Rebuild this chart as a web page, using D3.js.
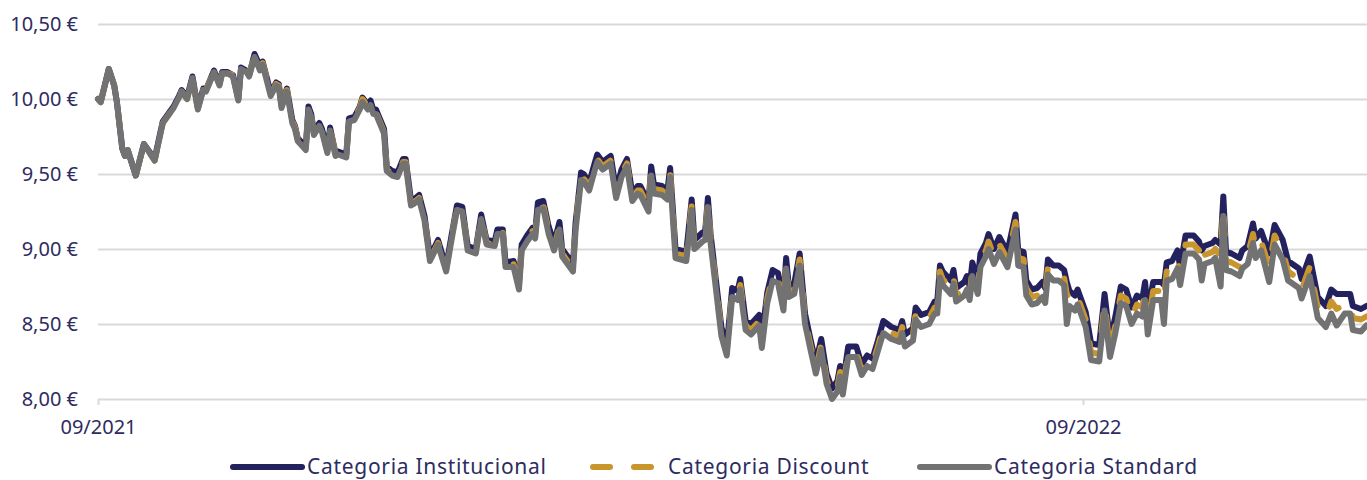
<!DOCTYPE html>
<html>
<head>
<meta charset="utf-8">
<script src="https://cdn.jsdelivr.net/npm/d3@7"></script>
<style>
  body { margin: 0; background: #fff; }
  text { font-family: "Noto Sans", sans-serif; fill: #2e2c5f; }
</style>
</head>
<body>
<div id="chart"></div>
<script>
const dates = [
  "2021-09-01","2021-09-02","2021-09-05","2021-09-07","2021-09-08","2021-09-10","2021-09-11","2021-09-12","2021-09-15","2021-09-18",
  "2021-09-22","2021-09-25","2021-09-27","2021-09-29","2021-10-01","2021-10-02","2021-10-04","2021-10-06","2021-10-08","2021-10-10",
  "2021-10-11","2021-10-14","2021-10-16","2021-10-17","2021-10-19","2021-10-21","2021-10-23","2021-10-24","2021-10-26","2021-10-27",
  "2021-10-29","2021-10-30","2021-10-31","2021-11-01","2021-11-04","2021-11-06","2021-11-07","2021-11-08","2021-11-10","2021-11-12",
  "2021-11-13","2021-11-14","2021-11-17","2021-11-18","2021-11-19","2021-11-20","2021-11-22","2021-11-23","2021-11-25","2021-11-26",
  "2021-11-28","2021-11-29","2021-12-02","2021-12-03","2021-12-05","2021-12-07","2021-12-08","2021-12-10","2021-12-11","2021-12-12",
  "2021-12-13","2021-12-16","2021-12-17","2021-12-19","2021-12-21","2021-12-23","2021-12-24","2021-12-26","2021-12-27","2021-12-29",
  "2021-12-31","2022-01-02","2022-01-05","2022-01-08","2022-01-10","2022-01-12","2022-01-14","2022-01-16","2022-01-19","2022-01-21",
  "2022-01-23","2022-01-26","2022-01-27","2022-01-29","2022-01-30","2022-02-02","2022-02-04","2022-02-05","2022-02-07","2022-02-09",
  "2022-02-10","2022-02-11","2022-02-13","2022-02-15","2022-02-17","2022-02-19","2022-02-20","2022-02-24","2022-02-25","2022-02-27",
  "2022-02-28","2022-03-02","2022-03-04","2022-03-05","2022-03-07","2022-03-10","2022-03-12","2022-03-14","2022-03-16","2022-03-18",
  "2022-03-20","2022-03-21","2022-03-24","2022-03-25","2022-03-26","2022-03-29","2022-03-31","2022-04-01","2022-04-03","2022-04-07",
  "2022-04-09","2022-04-10","2022-04-13","2022-04-14","2022-04-15","2022-04-16","2022-04-18","2022-04-20","2022-04-22","2022-04-24",
  "2022-04-26","2022-04-27","2022-04-29","2022-05-01","2022-05-04","2022-05-05","2022-05-07","2022-05-09","2022-05-11","2022-05-13",
  "2022-05-14","2022-05-15","2022-05-17","2022-05-19","2022-05-21","2022-05-23","2022-05-25","2022-05-27","2022-05-29","2022-05-31",
  "2022-06-02","2022-06-03","2022-06-04","2022-06-06","2022-06-09","2022-06-11","2022-06-13","2022-06-15","2022-06-17","2022-06-19",
  "2022-06-22","2022-06-25","2022-06-26","2022-06-27","2022-06-30","2022-07-01","2022-07-03","2022-07-06","2022-07-08","2022-07-09",
  "2022-07-10","2022-07-11","2022-07-14","2022-07-15","2022-07-16","2022-07-19","2022-07-20","2022-07-21","2022-07-22","2022-07-24",
  "2022-07-25","2022-07-27","2022-07-28","2022-07-30","2022-08-01","2022-08-04","2022-08-07","2022-08-08","2022-08-10","2022-08-11",
  "2022-08-13","2022-08-15","2022-08-17","2022-08-18","2022-08-19","2022-08-21","2022-08-23","2022-08-25","2022-08-26","2022-08-27",
  "2022-08-29","2022-08-30","2022-09-02","2022-09-04","2022-09-07","2022-09-09","2022-09-11","2022-09-13","2022-09-15","2022-09-17",
  "2022-09-19","2022-09-21","2022-09-23","2022-09-24","2022-09-25","2022-09-27","2022-09-30","2022-10-01","2022-10-02","2022-10-04",
  "2022-10-06","2022-10-07","2022-10-09","2022-10-12","2022-10-14","2022-10-15","2022-10-16","2022-10-19","2022-10-20","2022-10-22",
  "2022-10-23","2022-10-24","2022-10-26","2022-10-29","2022-10-30","2022-11-01","2022-11-03","2022-11-04","2022-11-06","2022-11-09",
  "2022-11-11","2022-11-14","2022-11-16","2022-11-20","2022-11-21","2022-11-24","2022-11-27","2022-11-30","2022-12-02","2022-12-04",
  "2022-12-07","2022-12-09","2022-12-10","2022-12-13","2022-12-15"
];

const standard = [
  10.00,9.98,10.20,10.09,9.98,9.67,9.62,9.66,9.49,9.70,
  9.59,9.84,9.89,9.94,10.01,10.05,10.00,10.14,9.93,10.06,
  10.05,10.18,10.09,10.17,10.17,10.15,9.99,10.20,10.18,10.15,
  10.28,10.24,10.19,10.23,10.02,10.09,10.08,9.94,10.05,9.84,
  9.80,9.72,9.66,9.93,9.88,9.76,9.82,9.78,9.64,9.79,
  9.62,9.63,9.61,9.85,9.86,9.93,9.98,9.93,9.96,9.90,
  9.90,9.77,9.52,9.49,9.48,9.57,9.57,9.29,9.30,9.33,
  9.19,8.92,9.03,8.85,9.06,9.26,9.25,8.99,8.97,9.20,
  9.03,9.02,9.10,9.10,8.88,8.88,8.73,8.99,9.05,9.10,
  9.07,9.26,9.27,9.10,8.99,9.13,8.95,8.85,9.13,9.46,
  9.45,9.39,9.52,9.58,9.53,9.57,9.34,9.48,9.55,9.32,
  9.37,9.36,9.25,9.49,9.37,9.36,9.33,9.48,8.94,8.92,
  9.26,9.00,9.05,9.06,9.28,9.04,8.73,8.42,8.29,8.68,
  8.66,8.73,8.46,8.43,8.49,8.34,8.64,8.79,8.77,8.59,
  8.87,8.68,8.70,8.89,8.50,8.33,8.17,8.33,8.10,8.00,
  8.05,8.15,8.03,8.28,8.28,8.16,8.22,8.20,8.32,8.44,
  8.40,8.38,8.44,8.35,8.39,8.53,8.48,8.50,8.57,8.57,
  8.81,8.76,8.70,8.77,8.65,8.69,8.73,8.66,8.82,8.70,
  8.88,8.95,9.00,8.90,8.98,8.88,9.13,8.89,8.88,8.69,
  8.63,8.64,8.68,8.64,8.83,8.79,8.79,8.76,8.50,8.62,
  8.59,8.63,8.48,8.26,8.25,8.59,8.28,8.44,8.64,8.62,
  8.50,8.57,8.55,8.66,8.43,8.66,8.66,8.50,8.79,8.80,
  8.87,8.76,8.97,8.97,8.93,8.79,8.90,8.92,8.94,8.75,
  9.22,8.86,8.85,8.82,8.87,8.90,9.04,8.94,8.99,8.78,
  9.03,8.93,8.79,8.74,8.67,8.82,8.54,8.48,8.57,8.49,
  8.57,8.57,8.46,8.45,8.49
];

const institucional = [
  10.00,9.98,10.20,10.09,9.98,9.67,9.62,9.66,9.49,9.70,
  9.60,9.85,9.90,9.95,10.02,10.06,10.01,10.15,9.94,10.07,
  10.06,10.19,10.10,10.18,10.18,10.16,10.00,10.21,10.19,10.16,
  10.30,10.26,10.21,10.25,10.04,10.11,10.10,9.96,10.07,9.86,
  9.82,9.74,9.68,9.95,9.90,9.78,9.84,9.80,9.66,9.81,
  9.64,9.65,9.63,9.87,9.88,9.95,10.01,9.96,9.99,9.93,
  9.93,9.80,9.55,9.52,9.51,9.60,9.60,9.32,9.33,9.36,
  9.22,8.95,9.06,8.88,9.09,9.29,9.28,9.02,9.00,9.23,
  9.06,9.05,9.13,9.13,8.91,8.92,8.77,9.03,9.09,9.14,
  9.11,9.31,9.32,9.15,9.04,9.18,9.00,8.90,9.18,9.51,
  9.50,9.44,9.57,9.63,9.58,9.62,9.39,9.53,9.60,9.37,
  9.42,9.42,9.31,9.55,9.43,9.42,9.39,9.54,9.00,8.98,
  9.33,9.06,9.11,9.12,9.34,9.10,8.79,8.48,8.35,8.74,
  8.72,8.80,8.52,8.50,8.56,8.41,8.71,8.86,8.84,8.66,
  8.94,8.75,8.77,8.97,8.57,8.40,8.24,8.40,8.17,8.07,
  8.12,8.22,8.10,8.35,8.35,8.23,8.29,8.27,8.39,8.52,
  8.48,8.46,8.52,8.43,8.47,8.61,8.56,8.58,8.65,8.65,
  8.89,8.85,8.79,8.86,8.74,8.78,8.82,8.75,8.91,8.79,
  8.97,9.04,9.10,9.00,9.08,8.98,9.23,8.99,8.98,8.79,
  8.73,8.74,8.78,8.74,8.93,8.89,8.89,8.86,8.78,8.72,
  8.69,8.73,8.58,8.37,8.36,8.70,8.39,8.55,8.75,8.73,
  8.61,8.69,8.67,8.78,8.58,8.78,8.78,8.76,8.91,8.92,
  8.99,8.88,9.09,9.09,9.05,8.99,9.02,9.04,9.06,9.03,
  9.35,8.98,8.97,8.94,8.99,9.02,9.17,9.07,9.12,8.97,
  9.16,9.06,8.92,8.87,8.80,8.95,8.68,8.62,8.73,8.70,
  8.70,8.70,8.62,8.60,8.62
];

const discount = [
  10.00,9.98,10.20,10.09,9.98,9.67,9.62,9.66,9.49,9.70,
  9.59,9.84,9.89,9.94,10.01,10.05,10.00,10.14,9.93,10.06,
  10.06,10.18,10.10,10.17,10.17,10.16,10.00,10.21,10.19,10.16,
  10.29,10.25,10.20,10.24,10.03,10.10,10.09,9.95,10.06,9.85,
  9.81,9.73,9.67,9.94,9.89,9.77,9.83,9.79,9.65,9.80,
  9.63,9.64,9.62,9.86,9.87,9.94,10.00,9.95,9.97,9.91,
  9.91,9.78,9.53,9.50,9.49,9.58,9.58,9.30,9.31,9.34,
  9.20,8.93,9.04,8.86,9.07,9.27,9.26,9.00,8.98,9.21,
  9.04,9.03,9.11,9.11,8.89,8.90,8.75,9.01,9.07,9.12,
  9.09,9.28,9.29,9.12,9.01,9.15,8.97,8.87,9.15,9.48,
  9.47,9.41,9.54,9.60,9.55,9.59,9.36,9.50,9.57,9.34,
  9.39,9.39,9.28,9.52,9.40,9.39,9.36,9.51,8.97,8.95,
  9.29,9.03,9.08,9.09,9.31,9.07,8.76,8.45,8.32,8.71,
  8.69,8.76,8.49,8.46,8.52,8.37,8.67,8.82,8.80,8.62,
  8.90,8.71,8.73,8.93,8.53,8.36,8.20,8.36,8.13,8.03,
  8.08,8.18,8.06,8.31,8.31,8.19,8.25,8.23,8.35,8.48,
  8.44,8.42,8.48,8.39,8.43,8.57,8.52,8.54,8.61,8.61,
  8.85,8.80,8.74,8.81,8.69,8.73,8.77,8.70,8.86,8.74,
  8.92,8.99,9.05,8.95,9.03,8.93,9.18,8.94,8.93,8.74,
  8.68,8.69,8.73,8.69,8.88,8.84,8.84,8.81,8.70,8.67,
  8.64,8.68,8.53,8.31,8.30,8.64,8.33,8.49,8.69,8.67,
  8.55,8.63,8.61,8.72,8.50,8.72,8.72,8.66,8.85,8.86,
  8.93,8.82,9.03,9.03,8.99,8.90,8.96,8.98,9.00,8.95,
  9.28,8.92,8.91,8.88,8.93,8.96,9.10,9.00,9.05,8.88,
  9.09,8.99,8.85,8.80,8.73,8.88,8.61,8.55,8.65,8.60,
  8.63,8.63,8.54,8.53,8.55
];

const seriesNames = ["Categoria Institucional", "Categoria Discount", "Categoria Standard"];
const colors = ["#24215f", "#c8962c", "#727272"];
const yTicks = [8.0, 8.5, 9.0, 9.5, 10.0, 10.5];
const xTicks = ["2021-09-01", "2022-09-01"];

const width = 1367, height = 480;
const margin = ({top: 24, right: 0, bottom: 81, left: 98});

const parseDate = d3.timeParse("%Y-%m-%d");
const euro = d => d3.format(".2f")(d).replace(".", ",") + " €";

const x = d3.scaleTime()
    .domain([parseDate("2021-09-01"), parseDate("2022-09-01")])
    .range([margin.left, 1083]);

const y = d3.scaleLinear()
    .domain([8, 10.5])
    .range([height - margin.bottom, margin.top]);

const svg = d3.select("#chart").append("svg")
    .attr("width", width).attr("height", height);

// grid + y labels
const yAxis = svg.append("g")
    .attr("transform", `translate(${margin.left},0)`)
    .call(d3.axisLeft(y).tickValues(yTicks).tickFormat(euro)
      .tickSize(-(width - margin.left)).tickPadding(20));
yAxis.select(".domain").remove();
yAxis.selectAll("line").attr("stroke", "#d9d9d9").attr("stroke-width", 2);
yAxis.selectAll("text").attr("font-size", 20).attr("fill", "#2e2c5f")
    .style("font-family", '"Noto Sans", sans-serif');

// x ticks
const xAxis = svg.append("g")
    .attr("transform", `translate(0,${y(8)})`)
    .call(d3.axisBottom(x).tickValues(xTicks.map(parseDate))
      .tickFormat(d3.timeFormat("%m/%Y")).tickSize(6).tickPadding(15));
xAxis.select(".domain").remove();
xAxis.selectAll("line").attr("stroke", "#d9d9d9").attr("stroke-width", 2);
xAxis.selectAll("text").attr("font-size", 20).attr("fill", "#2e2c5f")
    .style("font-family", '"Noto Sans", sans-serif');

// lines
const series = [institucional, discount, standard];
series.forEach(function(vals, i) {
  const pts = dates.map((d, j) => [parseDate(d), vals[j]]);
  const line = d3.line()
      .x(d => x(d[0]))
      .y(d => y(d[1]));
  svg.append("path")
    .datum(pts)
    .attr("d", line)
    .attr("fill", "none")
    .attr("stroke", colors[i])
    .attr("stroke-width", 6)
    .attr("stroke-linejoin", "round")
    .attr("stroke-linecap", "round")
    .attr("stroke-dasharray", i === 1 ? "17,24" : null);
});

// legend
const legendX = [230, 590, 917];
const legendY = 467;
seriesNames.forEach(function(name, i) {
  const g = svg.append("g").attr("transform", `translate(${legendX[i]},${legendY})`);
  g.append("line")
    .attr("x1", 3).attr("x2", i === 1 ? 66 : 72)
    .attr("y1", 0).attr("y2", 0)
    .attr("stroke", colors[i]).attr("stroke-width", 6)
    .attr("stroke-linecap", "round")
    .attr("stroke-dasharray", i === 1 ? "17,24" : null);
  g.append("text")
    .attr("x", i === 1 ? 78 : 77)
    .attr("y", 0).attr("dy", "0.35em")
    .attr("font-size", 21)
    .attr("letter-spacing", 0.7)
    .text(name);
});
</script>
</body>
</html>
